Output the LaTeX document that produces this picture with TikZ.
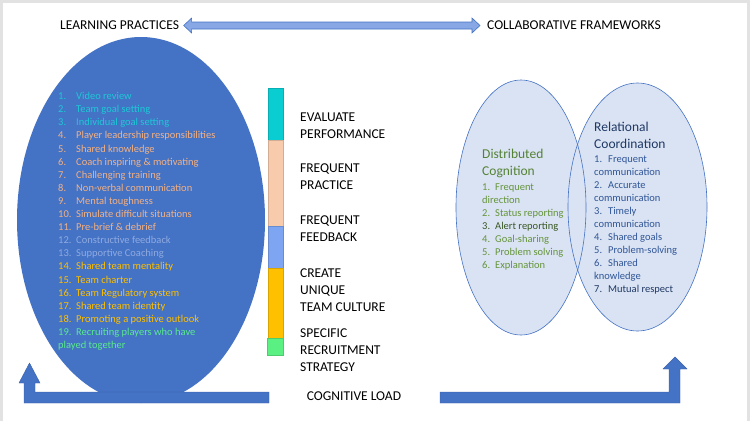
\documentclass[tikz,border=0pt]{standalone}
\usepackage{fontspec}
\setmainfont{Carlito}
\usetikzlibrary{positioning,calc}
% numbered line: #1 width of the number column, #2 number, #3 text
\newcommand{\li}[3][18pt]{\makebox[#1][l]{#2}#3}

\begin{document}
\begin{tikzpicture}[x=1pt,y=-1pt,
  caption/.style={font=\fontsize{13.5}{17}\selectfont, inner sep=0pt, align=left, anchor=north west},
  lst/.style={font=\fontsize{10.5}{13.1}\selectfont, inner sep=0pt, align=left, anchor=north west},
  fwl/.style={font=\fontsize{10.5}{#1}\selectfont, inner sep=0pt, align=left, anchor=north west},
  seg/.style={fill=#1, draw=#1!85!black, line width=0.3pt},
  bent/.style={fill=bigblue, draw=bentedge, line width=0.4pt},
  dblarr/.style={fill=arrfill, draw=bigblue, line width=0.6pt, line join=miter}]

\definecolor{framegray}{RGB}{226,226,226}
\definecolor{bigblue}{RGB}{68,114,196}
\definecolor{bentedge}{RGB}{58,98,172}
\definecolor{arrfill}{RGB}{135,168,228}
\definecolor{ellfill}{RGB}{218,227,243}
\definecolor{tealtx}{RGB}{30,200,215}
\definecolor{peachtx}{RGB}{244,177,131}
\definecolor{lbluetx}{RGB}{143,170,225}
\definecolor{goldtx}{RGB}{255,192,0}
\definecolor{greentx}{RGB}{90,235,140}
\definecolor{stteal}{RGB}{10,205,210}
\definecolor{stpeach}{RGB}{248,203,173}
\definecolor{stblue}{RGB}{125,165,242}
\definecolor{stgold}{RGB}{255,192,0}
\definecolor{stgreen}{RGB}{90,240,130}
\definecolor{dchead}{RGB}{84,130,53}
\definecolor{dcitem}{RGB}{100,148,58}
\definecolor{dcdark}{RGB}{56,87,35}
\definecolor{rchead}{RGB}{31,56,100}
\definecolor{rcitem}{RGB}{47,85,151}

% frame
\fill[framegray] (0,0) rectangle (750,421);
\fill[white] (3,3) rectangle (747,421);
\useasboundingbox (0,0) rectangle (750,421);

% ===== HEADINGS =====
\node[caption, anchor=west] (lp) at (60,25.5) {LEARNING PRACTICES};
\node[caption, anchor=west] (cf) at (487,25.5) {COLLABORATIVE FRAMEWORKS};
\coordinate (la) at ($(lp.east)+(4.5,0)$);
\coordinate (ra) at ($(cf.west)+(-7,0)$);
\draw[dblarr] (la) -- ++(8,-7.5) -- ++(0,4) -- ($(ra)+(-8,-3.5)$) -- ++(0,-4) -- (ra)
  -- ++(-8,7.5) -- ++(0,-4) -- ($(la)+(8,3.5)$) -- ++(0,4) -- cycle;

% ===== LEARNING PRACTICES =====
\fill[bigblue] (141,220) ellipse [x radius=124, y radius=183];
\node[lst] (practices) at (58,90.3) {%
  \textcolor{tealtx}{\strut\li{1.}{Video review}}\\
  \textcolor{tealtx}{\li{2.}{Team goal setting}}\\
  \textcolor{tealtx}{\li{3.}{Individual goal setting}}\\
  \textcolor{peachtx}{\li{4.}{Player leadership responsibilities}}\\
  \textcolor{peachtx}{\li{5.}{Shared knowledge}}\\
  \textcolor{peachtx}{\li{6.}{Coach inspiring \& motivating}}\\
  \textcolor{peachtx}{\li{7.}{Challenging training}}\\
  \textcolor{peachtx}{\li{8.}{Non-verbal communication}}\\
  \textcolor{peachtx}{\li{9.}{Mental toughness}}\\
  \textcolor{peachtx}{\li{10.}{Simulate difficult situations}}\\
  \textcolor{peachtx}{\li{11.}{Pre-brief \& debrief}}\\
  \textcolor{lbluetx}{\li{12.}{Constructive feedback}}\\
  \textcolor{lbluetx}{\li{13.}{Supportive Coaching}}\\
  \textcolor{goldtx}{\li{14.}{Shared team mentality}}\\
  \textcolor{goldtx}{\li{15.}{Team charter}}\\
  \textcolor{goldtx}{\li{16.}{Team Regulatory system}}\\
  \textcolor{goldtx}{\li{17.}{Shared team identity}}\\
  \textcolor{goldtx}{\li{18.}{Promoting a positive outlook}}\\
  \textcolor{greentx}{\li{19.}{Recruiting players who have}}\\
  \textcolor{greentx}{played together}};

% colour strip and its categories
\path[seg=stteal]  (268,88)  rectangle (283,140);
\path[seg=stpeach] (268,140) rectangle (283,226);
\path[seg=stblue]  (268,226) rectangle (283,268);
\path[seg=stgold]  (268,268) rectangle (283,338);
\path[seg=stgreen] (267,338) rectangle (283,355);
\node[caption] (evalp)  at (300,109.5) {\strut EVALUATE\\PERFORMANCE};
\node[caption] (practc) at (300,160.5) {\strut FREQUENT\\PRACTICE};
\node[caption] (feedbk) at (300,212.5) {\strut FREQUENT\\FEEDBACK};
\node[caption] (cultr)  at (300,265.5) {\strut CREATE\\UNIQUE\\TEAM CULTURE};
\node[caption] (recrt)  at (300,325.5) {\strut SPECIFIC\\RECRUITMENT\\STRATEGY};

% ===== COLLABORATIVE FRAMEWORKS =====
\fill[ellfill] (521,207.5) ellipse [x radius=65, y radius=127.5];
\fill[ellfill] (637.5,207) ellipse [x radius=69.5, y radius=124];
\draw[bigblue, line width=0.6pt] (521,207.5) ellipse [x radius=65, y radius=127.5];
\draw[bigblue, line width=0.6pt] (637.5,207) ellipse [x radius=69.5, y radius=124];

\node[caption, text=dchead] (dctitle) at (482,146.5) {\strut Distributed\\Cognition};
\node[fwl=12.9] (dclist) at (482,181.5) {%
  \textcolor{dcitem}{\strut\li[13pt]{1.}{Frequent}}\\
  \textcolor{dcitem}{direction}\\
  \textcolor{dcitem}{\li[13pt]{2.}{Status reporting}}\\
  \textcolor{dcdark}{\li[13pt]{3.}{Alert reporting}}\\
  \textcolor{dcitem}{\li[13pt]{4.}{Goal-sharing}}\\
  \textcolor{dcitem}{\li[13pt]{5.}{Problem solving}}\\
  \textcolor{dcitem}{\li[13pt]{6.}{Explanation}}};

\node[caption, font=\fontsize{13.5}{16.5}\selectfont, text=rchead] (rctitle) at (594,119.9) {\strut Relational\\Coordination};
\node[fwl=13] (rclist) at (594,153.4) {%
  \textcolor{rcitem}{\strut\li[14pt]{1.}{Frequent}}\\
  \textcolor{rcitem}{communication}\\
  \textcolor{rcitem}{\li[14pt]{2.}{Accurate}}\\
  \textcolor{rcitem}{communication}\\
  \textcolor{rcitem}{\li[14pt]{3.}{Timely}}\\
  \textcolor{rcitem}{communication}\\
  \textcolor{rcitem}{\li[14pt]{4.}{Shared goals}}\\
  \textcolor{rcitem}{\li[14pt]{5.}{Problem-solving}}\\
  \textcolor{rcitem}{\li[14pt]{6.}{Shared}}\\
  \textcolor{rcitem}{knowledge}\\
  \textcolor{rchead}{\li[14pt]{7.}{Mutual respect}}};

% ===== COGNITIVE LOAD =====
\node[caption, anchor=center] (cog) at (354,396) {COGNITIVE LOAD};
\draw[bent] (24,403) -- (269,403) -- (269,392) -- (35,392) -- (35,383) -- (40,383)
  -- (29.5,363) -- (19,383) -- (24,383) -- cycle;
\draw[bent] (440,392) -- (669,392) -- (669,369) -- (663,369) -- (675,357)
  -- (687,369) -- (680,369) -- (680,403) -- (440,403) -- cycle;

\end{tikzpicture}
\end{document}
